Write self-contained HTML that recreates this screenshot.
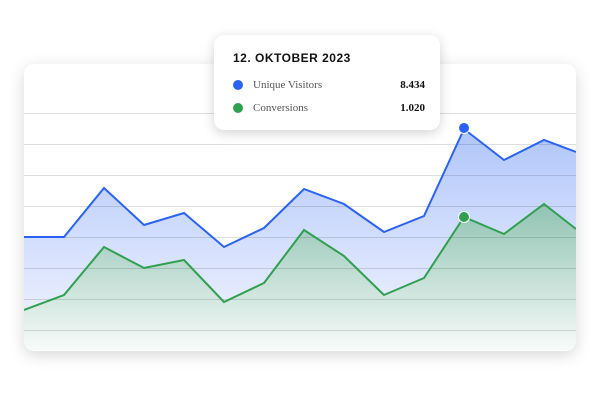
<!DOCTYPE html>
<html><head><style>
body{margin:0;width:600px;height:400px;background:#fff;position:relative;overflow:hidden;font-family:"Liberation Serif",serif}
.card{position:absolute;left:24px;top:64px;width:552px;height:287px;border-radius:10px;background:#fff;box-shadow:0 4px 16px rgba(0,0,0,0.16);overflow:hidden}
.tip{position:absolute;left:214px;top:35px;width:226px;height:95px;border-radius:10px;background:#fff;box-shadow:0 3px 12px rgba(0,0,0,0.18)}
.t{position:absolute;left:19px;top:16px;font-family:"Liberation Sans",sans-serif;font-weight:bold;font-size:12px;letter-spacing:0.5px;color:#111}
.row{position:absolute;left:19px;width:192px;font-size:11px;color:#555}
.dot{position:absolute;left:0;top:1px;width:10px;height:10px;border-radius:50%}
.lab{position:absolute;left:20px;top:0}
.val{position:absolute;right:0;top:0;color:#111;font-weight:bold}
</style></head><body>
<div class="card">
<svg width="552" height="287" viewBox="24 64 552 287" style="position:absolute;left:0;top:0">
<defs>
<linearGradient id="gb" gradientUnits="userSpaceOnUse" x1="0" y1="130" x2="0" y2="351"><stop offset="0" stop-color="#b0c6fa"/><stop offset="1" stop-color="#f6f7ff"/></linearGradient>
<linearGradient id="gg" gradientUnits="userSpaceOnUse" x1="0" y1="210" x2="0" y2="351"><stop offset="0" stop-color="#94c5b5"/><stop offset="1" stop-color="#f8fbfa"/></linearGradient>
</defs>
<path d="M24 237L64 237L104 188L144 225L184 213L224 247L264 228L304 189L344 204L384 232L424 216L464 129L504 160L544 140L576 152L576 351L24 351Z" fill="url(#gb)"/>
<path d="M24 310L64 295L104 247L144 268L184 260L224 302L264 283L304 230L344 256L384 295L424 278L464 217L504 234L544 204L576 229L576 351L24 351Z" fill="url(#gg)"/>
<g stroke="#000" stroke-opacity="0.13" stroke-width="1">
<line x1="24" x2="576" y1="113.5" y2="113.5"/><line x1="24" x2="576" y1="144.5" y2="144.5"/><line x1="24" x2="576" y1="175.5" y2="175.5"/><line x1="24" x2="576" y1="206.5" y2="206.5"/><line x1="24" x2="576" y1="237.5" y2="237.5"/><line x1="24" x2="576" y1="268.5" y2="268.5"/><line x1="24" x2="576" y1="299.5" y2="299.5"/><line x1="24" x2="576" y1="330.5" y2="330.5"/>
</g>
<path d="M24 237L64 237L104 188L144 225L184 213L224 247L264 228L304 189L344 204L384 232L424 216L464 129L504 160L544 140L576 152" fill="none" stroke="#2962f5" stroke-width="2"/>
<path d="M24 310L64 295L104 247L144 268L184 260L224 302L264 283L304 230L344 256L384 295L424 278L464 217L504 234L544 204L576 229" fill="none" stroke="#30a050" stroke-width="2"/>
<circle cx="464" cy="128" r="5.5" fill="#2962f5" stroke="#fff" stroke-width="1"/>
<circle cx="464" cy="217" r="5.5" fill="#30a050" stroke="#fff" stroke-width="1"/>
</svg>
</div>
<div class="tip">
<div class="t">12. OKTOBER 2023</div>
<div class="row" style="top:44px"><div class="dot" style="background:#2962f5"></div><span class="lab">Unique Visitors</span><span class="val">8.434</span></div>
<div class="row" style="top:67px"><div class="dot" style="background:#30a050"></div><span class="lab">Conversions</span><span class="val">1.020</span></div>
</div>
</body></html>
